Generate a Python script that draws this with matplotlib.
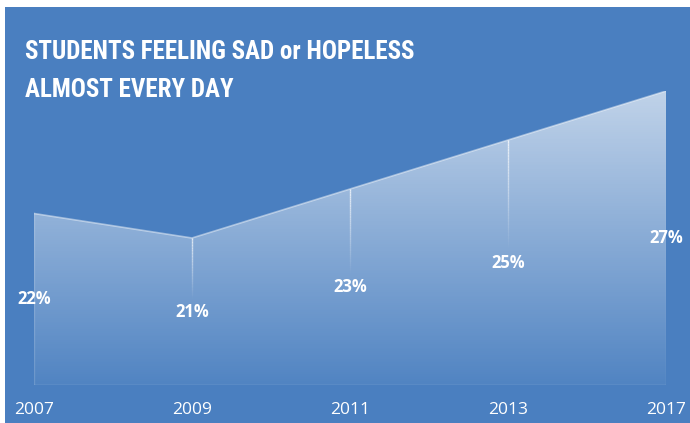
import numpy as np
import matplotlib.pyplot as plt
from matplotlib.patches import Rectangle
from matplotlib.collections import LineCollection

years = ['2007', '2009', '2011', '2013', '2017']
values = [22, 21, 23, 25, 27]
labels = ['22%', '21%', '23%', '25%', '27%']

bg_blue = '#4a7fc0'
ymin, ymax = 15, 27

fig = plt.figure(figsize=(6.9, 4.23), dpi=100)
fig.patch.set_facecolor('white')
bg = Rectangle((5 / 690, 0), 1, 1 - 7 / 423, transform=fig.transFigure,
               facecolor=bg_blue, edgecolor='none', zorder=-5)
fig.add_artist(bg)

ax = fig.add_axes([34 / 690, (423 - 385) / 423, (666 - 34) / 690, (385 - 91) / 423])
ax.set_zorder(2)
ax.set_facecolor('none')
x = np.arange(len(years))
ax.set_xlim(0, len(years) - 1)
ax.set_ylim(ymin, ymax)

# gradient fill clipped to the area
poly = ax.fill_between(x, ymin, values, facecolor='none', edgecolor='none')
grad = np.linspace(0.04, 0.66, 256)[:, None]
img = np.ones((256, 1, 4))
img[:, :, 3] = grad
im = ax.imshow(img, extent=[0, len(years) - 1, ymin, ymax], origin='lower',
               aspect='auto', interpolation='bilinear', zorder=1)
im.set_clip_path(poly.get_paths()[0], transform=ax.transData)

# top edge, side edges and baseline
ax.plot(x, values, color='white', alpha=0.45, lw=1.2, zorder=2)
ax.plot([x[0], x[0]], [ymin, values[0]], color='white', alpha=0.15, lw=1, zorder=2)
ax.plot([x[-1], x[-1]], [ymin, values[-1]], color='white', alpha=0.15, lw=1, zorder=2)
ax.axhline(ymin, color='white', alpha=0.25, lw=1, zorder=2)

# fading drop lines at inner points
for xi, v in zip(x[1:-1], values[1:-1]):
    ys = np.linspace(v, (ymin + v) / 2 + 0.5, 40)
    segs = [[(xi, ys[i]), (xi, ys[i + 1])] for i in range(len(ys) - 1)]
    alphas = np.linspace(0.75, 0.0, len(segs))
    cols = [(1, 1, 1, a) for a in alphas]
    ax.add_collection(LineCollection(segs, colors=cols, linewidths=1, zorder=2))

for xi, v, lab in zip(x, values, labels):
    ax.text(xi, (ymin + v) / 2, lab, ha='center', va='center', color='white',
            fontsize=12, fontweight='bold', family='Open Sans', zorder=3)

ax.set_xticks(x)
ax.set_xticklabels(years, color='white', fontsize=12.5, family='Open Sans')
ax.tick_params(axis='x', length=0, pad=12)
ax.set_yticks([])
for s in ax.spines.values():
    s.set_visible(False)

title_font = ['Roboto Condensed', 'Roboto']
fig.text(25 / 690, 1 - 52 / 423, 'STUDENTS FEELING SAD or HOPELESS', color='white',
         fontsize=18, fontweight='bold', family=title_font, fontstretch='condensed',
         va='center', ha='left')
fig.text(25 / 690, 1 - 90 / 423, 'ALMOST EVERY DAY', color='white',
         fontsize=18, fontweight='bold', family=title_font, fontstretch='condensed',
         va='center', ha='left')

fig.savefig('out.png', dpi=100, facecolor=fig.get_facecolor())
